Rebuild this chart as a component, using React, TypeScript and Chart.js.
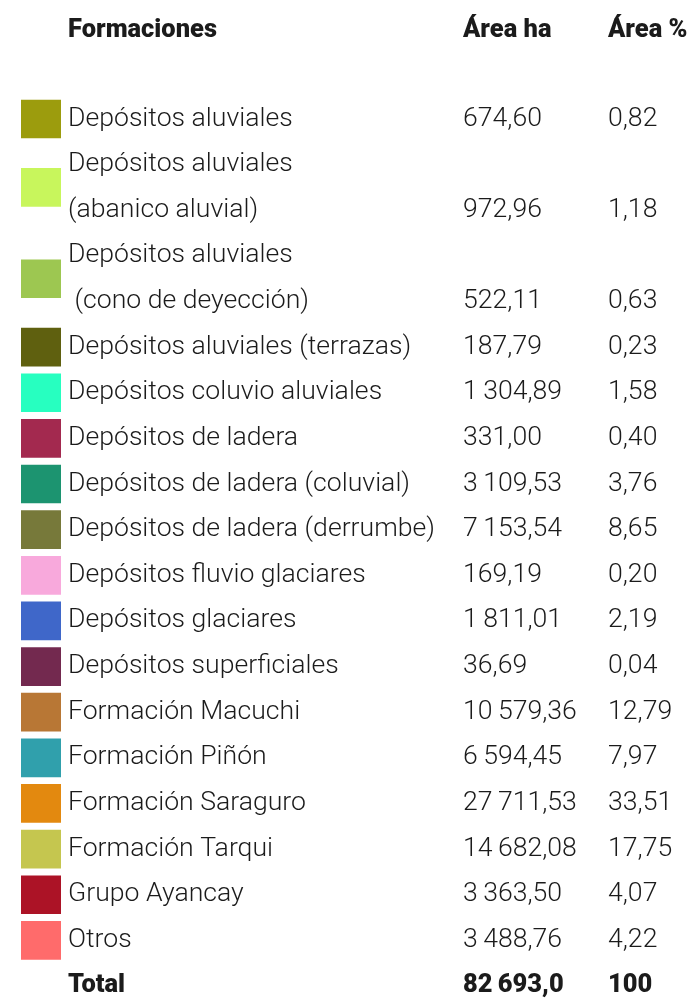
import React, { useEffect, useRef } from "react";
import { Chart, registerables } from "chart.js";

Chart.register(...registerables);

// ---------- data ----------
const encabezados: string[] = ["Formaciones", "Área ha", "Área %"];

const formaciones: string[][] = [
  ["Depósitos aluviales"],
  ["Depósitos aluviales", "(abanico aluvial)"],
  ["Depósitos aluviales", " (cono de deyección)"],
  ["Depósitos aluviales (terrazas)"],
  ["Depósitos coluvio aluviales"],
  ["Depósitos de ladera"],
  ["Depósitos de ladera (coluvial)"],
  ["Depósitos de ladera (derrumbe)"],
  ["Depósitos fluvio glaciares"],
  ["Depósitos glaciares"],
  ["Depósitos superficiales"],
  ["Formación Macuchi"],
  ["Formación Piñón"],
  ["Formación Saraguro"],
  ["Formación Tarqui"],
  ["Grupo Ayancay"],
  ["Otros"],
];

const areaHa: number[] = [
  674.6, 972.96, 522.11, 187.79, 1304.89, 331.0, 3109.53, 7153.54, 169.19,
  1811.01, 36.69, 10579.36, 6594.45, 27711.53, 14682.08, 3363.5, 3488.76,
];

const areaPct: number[] = [
  0.82, 1.18, 0.63, 0.23, 1.58, 0.4, 3.76, 8.65, 0.2, 2.19, 0.04, 12.79, 7.97,
  33.51, 17.75, 4.07, 4.22,
];

const colores: string[] = [
  "#9C9C0D", "#C8F65C", "#9DC751", "#5F600F", "#27FFC0", "#A3294F",
  "#1C9470", "#77793A", "#F8A9DC", "#3F67C9", "#73294F", "#B87735",
  "#30A0AC", "#E3890F", "#C5C64F", "#AC1326", "#FF6B6B",
];

const totalEtiqueta = "Total";
const totalHa = 82693.0;
const totalPct = 100;

// ---------- layout / style ----------
const W = 693;
const H = 1002;
const LINE_PX = 45.63;
const FIRST_LINE_Y = 119;
const HEADER_Y = 30;
const SWATCH_LEFT = 21;
const SWATCH_RIGHT = 61;
const TEXT_X = 68;
const HA_X = 463;
const PCT_X = 608;
const INK = "#1b1b1b";
const BODY_FONT = '300 26px Roboto, "Open Sans", Lato, sans-serif';
const BOLD_FONT = '900 26px Roboto, "Open Sans", Lato, sans-serif';

function fmt(v: number, d: number): string {
  const s = v.toFixed(d);
  const [i, dec] = s.split(".");
  const g = i.replace(/\B(?=(\d{3})+(?!\d))/g, "\u2009");
  return dec ? g + "," + dec : g;
}

// line index for each row
const rowStart: number[] = [];
{
  let acc = 0;
  formaciones.forEach((f) => {
    rowStart.push(acc);
    acc += f.length;
  });
}
const totalLine = rowStart[rowStart.length - 1] + formaciones[formaciones.length - 1].length;
const swatchCenter = formaciones.map((f, i) => rowStart[i] + (f.length - 1) / 2);
const valueLine = formaciones.map((f, i) => rowStart[i] + f.length - 1);
const headerLine = (HEADER_Y - FIRST_LINE_Y) / LINE_PX;
const yMin = -FIRST_LINE_Y / LINE_PX;
const yMax = yMin + H / LINE_PX;

const textPlugin = {
  id: "tablaTexto",
  afterDraw(chart: any) {
    const ctx: CanvasRenderingContext2D = chart.ctx;
    const y = chart.scales.y;
    ctx.save();
    ctx.fillStyle = INK;
    ctx.textBaseline = "middle";
    ctx.textAlign = "left";

    ctx.font = BODY_FONT;
    const sxBody = 367 / ctx.measureText("Depósitos de ladera (derrumbe)").width;
    ctx.font = BOLD_FONT;
    const sxBold = 149 / ctx.measureText("Formaciones").width;

    const draw = (t: string, x: number, py: number, font: string, sx: number) => {
      ctx.save();
      ctx.font = font;
      ctx.translate(x, py);
      ctx.scale(sx, 1);
      ctx.fillText(t, 0, 0);
      ctx.restore();
    };

    const hy = y.getPixelForValue(headerLine);
    draw(encabezados[0], TEXT_X, hy, BOLD_FONT, sxBold);
    draw(encabezados[1], HA_X, hy, BOLD_FONT, sxBold);
    draw(encabezados[2], PCT_X, hy, BOLD_FONT, sxBold);

    formaciones.forEach((lines, i) => {
      lines.forEach((ln, k) => {
        draw(ln, TEXT_X, y.getPixelForValue(rowStart[i] + k), BODY_FONT, sxBody);
      });
      const vy = y.getPixelForValue(valueLine[i]);
      draw(fmt(areaHa[i], 2), HA_X, vy, BODY_FONT, sxBody);
      draw(fmt(areaPct[i], 2), PCT_X, vy, BODY_FONT, sxBody);
    });

    const ty = y.getPixelForValue(totalLine);
    draw(totalEtiqueta, TEXT_X, ty, BOLD_FONT, sxBold);
    draw(fmt(totalHa, 1), HA_X, ty, BOLD_FONT, sxBold);
    draw(fmt(totalPct, 0), PCT_X, ty, BOLD_FONT, sxBold);
    ctx.restore();
  },
};

export default function App() {
  const ref = useRef<HTMLCanvasElement | null>(null);
  useEffect(() => {
    if (!ref.current) return;
    const chart = new Chart(ref.current, {
      type: "bar",
      data: {
        datasets: [
          {
            data: swatchCenter.map((c) => ({ x: 1, y: c })),
            backgroundColor: colores,
            borderWidth: 0,
            barThickness: 38,
          } as any,
        ],
      },
      options: {
        indexAxis: "y",
        responsive: false,
        animation: false,
        layout: {
          padding: { left: SWATCH_LEFT, right: W - SWATCH_RIGHT, top: 0, bottom: 0 },
        },
        scales: {
          x: { type: "linear", min: 0, max: 1, display: false, offset: false },
          y: {
            type: "linear",
            min: yMin,
            max: yMax,
            reverse: true,
            display: false,
            offset: false,
            grace: 0,
            grid: { offset: false },
          },
        },
        plugins: { legend: { display: false }, tooltip: { enabled: false } },
      },
      plugins: [textPlugin],
    });
    return () => chart.destroy();
  }, []);
  return (
    <div style={{ position: "absolute", left: 0, top: 0, width: W, height: H, background: "#fff" }}>
      <canvas ref={ref} width={W} height={H} style={{ display: "block" }} />
    </div>
  );
}
